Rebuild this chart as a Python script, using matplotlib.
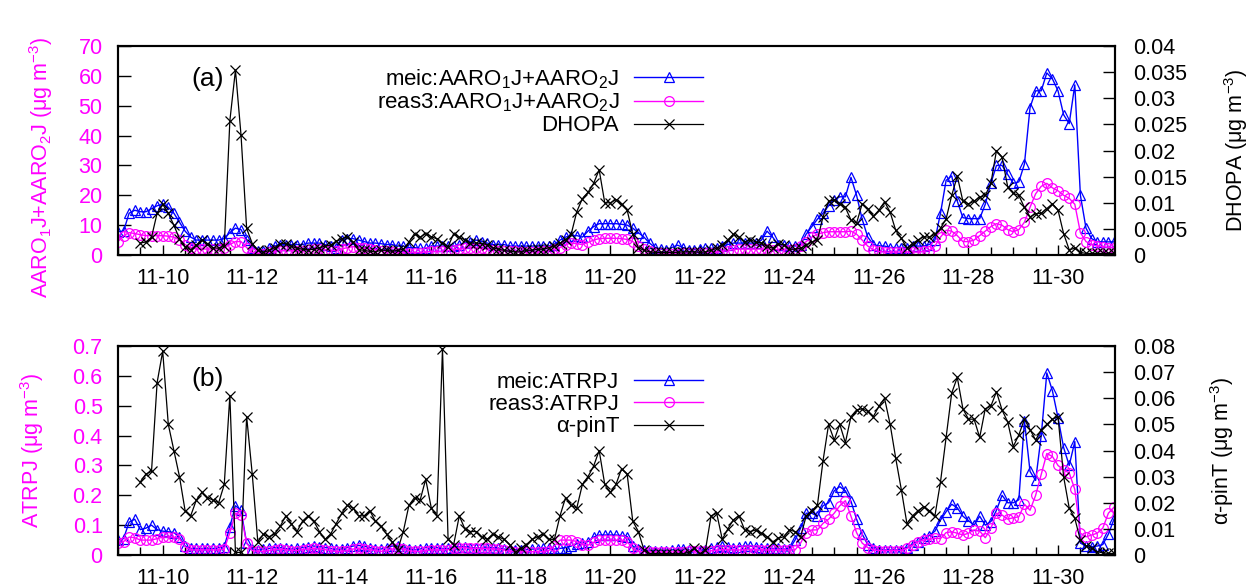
import numpy as np
import pandas as pd
import matplotlib
matplotlib.use('Agg')
import matplotlib.pyplot as plt
import matplotlib.dates as mdates
from matplotlib.ticker import MultipleLocator, FormatStrFormatter

plt.rcParams['font.family'] = ['Liberation Sans', 'DejaVu Sans']
plt.rcParams['mathtext.default'] = 'regular'

nan = np.nan

# 3-hourly values, one row per day, starting 11-09 00:00
# ---- panel (a) ----
meic_aaro = [
    7.8, 8, 14, 15, 14.5, 14.5, 15.5, 16.5,
    17, 16, 14, 11, 8, 6, 5, 5,
    5, 5, 5, 5.5, 7.5, 9, 8.5, 5,
    2.5, 1.5, 1.5, 2.5, 3, 3.5, 3.5, 3.5,
    3.5, 3.5, 4, 4, 4, 3.5, 3, 2.5,
    5, 5.5, 5.5, 5, 4.5, 4, 4, 3.8,
    3.5, 3.5, 3, 3, 2.5, 2.5, 2.2, 2.2,
    3, 3, 3, 3, 3, 3.5, 4, 4.5,
    5, 4.5, 4, 3.5, 3.5, 3.5, 3, 3,
    3, 3, 3, 3, 3, 3, 3.5, 5,
    6, 6.5, 6.5, 6, 8, 9.5, 10.5, 10.5,
    10.5, 10.5, 10.3, 10, 9, 7.5, 6, 4,
    2.5, 2, 1.8, 2.5, 3.3, 2.5, 1.8, 1.8,
    2, 2.2, 2.2, 2.5, 3, 3.5, 4, 4,
    4, 4, 4, 5, 8, 6, 3.5, 3.5,
    3, 3, 3.5, 7, 9.5, 12, 14, 16.5,
    18.5, 19.5, 19.5, 26, 20, 12, 6, 3.5,
    3, 3, 2.5, 2.5, 2.5, 2.5, 3, 3,
    3, 3.5, 5, 14, 25, 26.5, 18, 12.5,
    12.2, 12.2, 12.2, 17, 24, 30, 30, 27,
    24, 24.5, 30.5, 49.4, 55, 55, 61, 59,
    55, 47, 44, 57, 20, 9, 5.5, 4.5,
    4.4, 4.4, 4.4,
]
reas3_aaro = [
    4.5, 6.5, 7.5, 7.2, 6.8, 6.5, 6.5, 6.5,
    6.5, 6.3, 6, 5, 3.5, 2.5, 2, 2,
    2, 2, 2, 2.5, 3.5, 4.5, 4.5, 2.5,
    0.8, 0.5, 0.5, 1, 1.2, 1.5, 1.5, 1.5,
    1.5, 1.5, 1.8, 2, 2, 1.8, 1.5, 1.5,
    2, 2.5, 2.8, 2.5, 2.2, 2, 1.8, 1.5,
    1.2, 1, 0.8, 0.8, 0.8, 0.8, 0.8, 1,
    1.2, 1.2, 1.2, 1.5, 1.8, 2, 2.2, 2.5,
    2.5, 2.2, 2, 1.8, 1.5, 1.5, 1.3, 1.2,
    1, 1, 1, 1, 1.2, 1.5, 2, 2.5,
    3.5, 4, 3.8, 3.5, 4.2, 5, 5.5, 5.6,
    5.6, 5.6, 5.5, 5.2, 4.5, 3, 2, 1.2,
    0.8, 0.6, 0.5, 0.5, 0.5, 0.6, 0.7, 0.8,
    0.8, 0.8, 0.8, 1, 1.2, 1.5, 1.8, 2,
    2, 2, 2, 2, 2, 1.8, 1.8, 1.8,
    1.7, 2, 3, 4.5, 6, 7, 7.5, 7.8,
    7.8, 7.8, 7.8, 8, 7, 5, 3, 1.8,
    1.2, 1, 1, 1, 1, 1, 1, 1,
    1.2, 1.5, 3, 6, 8.3, 8, 6.5, 4.5,
    4.5, 5, 6.5, 8, 9.5, 10.5, 10, 8.5,
    7.8, 8.5, 11, 16, 20.5, 23, 24, 22.5,
    21.5, 20, 19, 17, 7.5, 4.5, 3.5, 3,
    2.8, 2.5, 2.5,
]
dhopa = [
    nan, nan, nan, nan, 0.0023, 0.0025, 0.0034, 0.0080,
    0.0097, 0.0080, 0.0057, 0.0031, 0.0016, 0.0010, 0.0019, 0.0029,
    0.0022, 0.0014, 0.0013, 0.0017, 0.0257, 0.0354, 0.0229, 0.0051,
    0.0022, 0.0009, 0.0005, 0.0009, 0.0014, 0.0022, 0.0022, 0.0017,
    0.0013, 0.0011, 0.0010, 0.0011, 0.0014, 0.0017, 0.0019, 0.0026,
    0.0031, 0.0035, 0.0025, 0.0010, 0.0009, 0.0007, 0.0006, 0.0009,
    0.0009, 0.0007, 0.0009, 0.0011, 0.0025, 0.0041, 0.0034, 0.0041,
    0.0035, 0.0031, 0.0023, 0.0016, 0.0041, 0.0034, 0.0029, 0.0023,
    0.0023, 0.0022, 0.0020, 0.0014, 0.0011, 0.0009, 0.0007, 0.0006,
    0.0006, 0.0009, 0.0009, 0.0011, 0.0011, 0.0014, 0.0017, 0.0023,
    0.0029, 0.0040, 0.0083, 0.0108, 0.0120, 0.0137, 0.0163, 0.0100,
    0.0100, 0.0106, 0.0097, 0.0086, 0.0040, 0.0014, 0.0009, 0.0006,
    0.0005, 0.0005, 0.0005, 0.0005, 0.0005, 0.0006, 0.0006, 0.0006,
    0.0005, 0.0006, 0.0009, 0.0013, 0.0020, 0.0029, 0.0040, 0.0034,
    0.0025, 0.0029, 0.0025, 0.0023, 0.0017, 0.0013, 0.0022, 0.0019,
    0.0011, 0.0011, 0.0013, 0.0019, 0.0025, 0.0029, 0.0073, 0.0103,
    0.0105, 0.0098, 0.0091, 0.0067, 0.0061, 0.0098, 0.0089, 0.0074,
    0.0086, 0.0102, 0.0082, 0.0047, 0.0032, 0.0013, 0.0022, 0.0029,
    0.0035, 0.0034, 0.0040, 0.0051, 0.0069, 0.0114, 0.0151, 0.0103,
    0.0098, 0.0103, 0.0111, 0.0114, 0.0137, 0.0200, 0.0187, 0.0131,
    0.0118, 0.0114, 0.0091, 0.0073, 0.0079, 0.0080, 0.0089, 0.0098,
    0.0086, 0.0041, 0.0010, 0.0013, 0.0005, 0.0003, 0.0003, 0.0003,
    0.0003, 0.0003, 0.0003,
]

# ---- panel (b) ----
meic_atrp = [
    0.05, 0.055, 0.11, 0.12, 0.085, 0.09, 0.1, 0.085,
    0.08, 0.078, 0.075, 0.06, 0.03, 0.022, 0.022, 0.022,
    0.022, 0.022, 0.025, 0.028, 0.095, 0.165, 0.15, 0.04,
    0.02, 0.018, 0.02, 0.022, 0.025, 0.025, 0.022, 0.02,
    0.022, 0.025, 0.028, 0.03, 0.028, 0.025, 0.022, 0.02,
    0.02, 0.025, 0.03, 0.032, 0.03, 0.025, 0.02, 0.02,
    0.025, 0.03, 0.03, 0.025, 0.02, 0.018, 0.02, 0.025,
    0.025, 0.025, 0.022, 0.022, 0.025, 0.028, 0.028, 0.025,
    0.022, 0.022, 0.025, 0.025, 0.022, 0.02, 0.018, 0.018,
    0.018, 0.018, 0.02, 0.02, 0.022, 0.022, 0.02, 0.022,
    0.025, 0.03, 0.038, 0.04, 0.045, 0.06, 0.067, 0.067,
    0.067, 0.067, 0.065, 0.062, 0.03, 0.02, 0.017, 0.015,
    0.015, 0.015, 0.015, 0.017, 0.02, 0.02, 0.017, 0.015,
    0.015, 0.018, 0.022, 0.028, 0.03, 0.028, 0.025, 0.028,
    0.03, 0.03, 0.028, 0.025, 0.025, 0.022, 0.022, 0.02,
    0.02, 0.05, 0.09, 0.14, 0.14, 0.13, 0.165, 0.175,
    0.215, 0.229, 0.215, 0.18, 0.12, 0.07, 0.035, 0.025,
    0.018, 0.017, 0.017, 0.017, 0.017, 0.025, 0.035, 0.045,
    0.056, 0.065, 0.08, 0.117, 0.145, 0.17, 0.158, 0.13,
    0.115, 0.1, 0.13, 0.1, 0.112, 0.15, 0.2, 0.175,
    0.175, 0.185, 0.45, 0.28, 0.25, 0.4, 0.61, 0.55,
    0.46, 0.36, 0.3, 0.38, 0.04, 0.03, 0.028, 0.03,
    0.035, 0.07, 0.12,
]
reas3_atrp = [
    0.04, 0.045, 0.06, 0.058, 0.05, 0.05, 0.05, 0.055,
    0.06, 0.06, 0.06, 0.055, 0.028, 0.017, 0.017, 0.017,
    0.017, 0.017, 0.017, 0.02, 0.075, 0.14, 0.135, 0.04,
    0.015, 0.012, 0.012, 0.015, 0.018, 0.02, 0.018, 0.015,
    0.015, 0.018, 0.02, 0.022, 0.02, 0.018, 0.015, 0.012,
    0.012, 0.015, 0.02, 0.022, 0.02, 0.018, 0.015, 0.012,
    0.015, 0.02, 0.022, 0.02, 0.015, 0.012, 0.012, 0.015,
    0.017, 0.017, 0.017, 0.018, 0.022, 0.025, 0.025, 0.022,
    0.022, 0.022, 0.022, 0.02, 0.02, 0.017, 0.012, 0.011,
    0.011, 0.011, 0.011, 0.011, 0.011, 0.015, 0.03, 0.05,
    0.05, 0.05, 0.045, 0.035, 0.033, 0.042, 0.05, 0.05,
    0.05, 0.05, 0.05, 0.045, 0.022, 0.012, 0.011, 0.011,
    0.011, 0.01, 0.01, 0.01, 0.011, 0.011, 0.012, 0.012,
    0.012, 0.012, 0.014, 0.016, 0.018, 0.018, 0.017, 0.017,
    0.017, 0.018, 0.018, 0.017, 0.017, 0.016, 0.017, 0.017,
    0.017, 0.017, 0.04, 0.075, 0.084, 0.084, 0.106, 0.12,
    0.14, 0.165, 0.182, 0.13, 0.075, 0.04, 0.025, 0.017,
    0.015, 0.015, 0.015, 0.015, 0.015, 0.022, 0.033, 0.045,
    0.05, 0.053, 0.056, 0.055, 0.075, 0.078, 0.073, 0.067,
    0.073, 0.084, 0.08, 0.058, 0.089, 0.14, 0.134, 0.12,
    0.125, 0.128, 0.17, 0.15, 0.2, 0.27, 0.34, 0.33,
    0.3, 0.285, 0.275, 0.22, 0.073, 0.061, 0.067, 0.073,
    0.09, 0.14, 0.16,
]
apinT = [
    nan, nan, nan, nan, 0.028, 0.031, 0.032, 0.066,
    0.078, 0.050, 0.040, 0.030, 0.017, 0.015, 0.021, 0.024,
    0.022, 0.021, 0.020, 0.027, 0.061, 0.001, 0.001, 0.053,
    0.031, 0.005, 0.008, 0.007, 0.008, 0.011, 0.015, 0.012,
    0.009, 0.013, 0.015, 0.013, 0.009, 0.006, 0.008, 0.012,
    0.016, 0.019, 0.018, 0.015, 0.015, 0.017, 0.013, 0.011,
    0.008, 0.005, 0.002, 0.009, 0.019, 0.022, 0.021, 0.029,
    0.018, 0.015, 0.079, 0.006, 0.004, 0.015, 0.010, 0.009,
    0.009, 0.007, 0.006, 0.008, 0.007, 0.006, 0.004, 0.001,
    0.0025, 0.004, 0.006, 0.007, 0.008, 0.006, 0.006, 0.015,
    0.022, 0.019, 0.018, 0.027, 0.030, 0.034, 0.040, 0.027,
    0.024, 0.027, 0.033, 0.031, 0.013, 0.009, 0.002, 0.0005,
    0.0005, 0.0005, 0.0005, 0.0005, 0.0005, 0.0005, 0.001, 0.0025,
    0.0005, 0.002, 0.015, 0.016, 0.006, 0.010, 0.0135, 0.015,
    0.0096, 0.009, 0.0096, 0.0083, 0.007, 0.005, 0.0064, 0.007,
    0.0096, 0.009, 0.007, 0.015, 0.017, 0.019, 0.036, 0.050,
    0.044, 0.050, 0.043, 0.053, 0.0555, 0.056, 0.055, 0.053,
    0.057, 0.060, 0.050, 0.037, 0.025, 0.012, 0.015, 0.017,
    0.0185, 0.017, 0.015, 0.028, 0.045, 0.062, 0.068, 0.056,
    0.052, 0.052, 0.045, 0.056, 0.057, 0.0625, 0.0555, 0.051,
    0.0415, 0.046, 0.052, 0.048, 0.044, 0.048, 0.050, 0.052,
    0.053, 0.030, 0.018, 0.014, 0.0057, 0.0035, 0.0025, 0.0013,
    0.0008, 0.0006, 0.0006,
]

times = pd.date_range('2010-11-09 00:00', periods=len(meic_aaro), freq='3h')
x_start, x_end = pd.Timestamp('2010-11-09 00:00'), pd.Timestamp('2010-12-01 06:30')

BLUE = '#0000ff'
PINK = '#ff00ff'
FS = 15.5   # ticks / axis labels
LFS = 16    # legend text

fig = plt.figure(figsize=(12.52, 5.88), dpi=100)
ax_a = fig.add_axes([0.0942, 0.5663, 0.7963, 0.3554])
ax_b = fig.add_axes([0.0942, 0.0561, 0.7963, 0.3554])


def panel(ax, blue, pink, black, names, left_lim, left_step,
          right_lim, right_step, left_label, right_label, tag,
          left_label_xy, right_label_x, legend_y):
    l1, = ax.plot(times, blue, color=BLUE, lw=1.0, marker='^', ms=7,
                  mfc='none', mec=BLUE, mew=0.9, label=names[0])
    l2, = ax.plot(times, pink, color=PINK, lw=1.0, marker='o', ms=7,
                  mfc='none', mec=PINK, mew=0.9, label=names[1])
    ax.set_ylim(*left_lim)
    ax.yaxis.set_major_locator(MultipleLocator(left_step))
    ax.yaxis.set_major_formatter(FormatStrFormatter('%g'))
    ax.tick_params(axis='y', direction='in', length=9, width=1,
                   labelcolor=PINK, labelsize=FS, pad=11)
    ax.set_ylabel(left_label, color=PINK, fontsize=FS)
    ax.yaxis.set_label_coords(*left_label_xy)

    ax2 = ax.twinx()
    l3, = ax2.plot(times, black, color='black', lw=0.9, marker='x', ms=6.5,
                   mew=0.9, label=names[2])
    ax2.set_ylim(*right_lim)
    ax2.yaxis.set_major_locator(MultipleLocator(right_step))
    ax2.yaxis.set_major_formatter(FormatStrFormatter('%g'))
    ax2.tick_params(axis='y', direction='in', length=9, width=1,
                    labelsize=FS, pad=13)
    ax2.set_ylabel(right_label, fontsize=FS)
    ax2.yaxis.set_label_coords(right_label_x, 0.5)

    ax.set_xlim(x_start, x_end)
    ax.xaxis.set_major_locator(mdates.DayLocator(bymonthday=range(10, 31, 2)))
    ax.xaxis.set_major_formatter(mdates.DateFormatter('%m-%d'))
    ax.xaxis.set_minor_locator(mdates.HourLocator(byhour=[0, 12]))
    ax.tick_params(axis='x', which='both', direction='in', top=False,
                   labelsize=FS, pad=9)
    ax.tick_params(axis='x', which='major', length=7, width=1)
    ax.tick_params(axis='x', which='minor', length=6, width=1)

    for a in (ax, ax2):
        for s in a.spines.values():
            s.set_linewidth(1.5)

    ax2.text(0.09, 0.84, tag, transform=ax.transAxes, fontsize=19,
             ha='center', va='center')
    ax2.legend([l1, l2, l3], names, loc='upper right',
               bbox_to_anchor=(0.587, legend_y), markerfirst=False,
               frameon=False, handlelength=3.1, handletextpad=0.68,
               labelspacing=0.05, borderaxespad=0, borderpad=0,
               fontsize=LFS, numpoints=1)


panel(ax_a, meic_aaro, reas3_aaro, dhopa,
      ['meic:AARO$_1$J+AARO$_2$J', 'reas3:AARO$_1$J+AARO$_2$J', 'DHOPA'],
      (0, 70), 10, (0, 0.04), 0.005,
      'AARO$_1$J+AARO$_2$J (\u03bcg m$^{-3}$)', 'DHOPA (\u03bcg m$^{-3}$)',
      '(a)', (-0.063, 0.42), 1.108, 0.90)

panel(ax_b, meic_atrp, reas3_atrp, apinT,
      ['meic:ATRPJ', 'reas3:ATRPJ', '\u03b1-pinT'],
      (0, 0.7), 0.1, (0, 0.08), 0.01,
      'ATRPJ (\u03bcg m$^{-3}$)', '\u03b1-pinT (\u03bcg m$^{-3}$)',
      '(b)', (-0.072, 0.5), 1.093, 0.875)

fig.savefig('out.png', dpi=100)
